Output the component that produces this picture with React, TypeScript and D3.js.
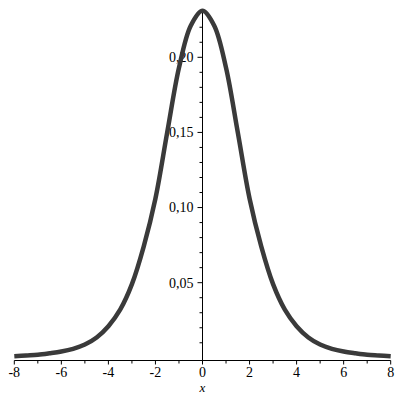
import React, { useEffect, useRef } from 'react';
import * as d3 from 'd3';

// curve (symmetric bell)
const xs = [-8, -7.5, -7, -6.5, -6, -5.5, -5, -4.5, -4, -3.5, -3, -2.5, -2, -1.5, -1, -0.5,
  0, 0.5, 1, 1.5, 2, 2.5, 3, 3.5, 4, 4.5, 5, 5.5, 6, 6.5, 7, 7.5, 8];
const ys = [0.001, 0.0015, 0.002, 0.003, 0.0042, 0.006, 0.0088, 0.0135, 0.021, 0.032, 0.049,
  0.074, 0.106, 0.150, 0.193, 0.221, 0.231, 0.221, 0.193, 0.150, 0.106, 0.074, 0.049, 0.032,
  0.021, 0.0135, 0.0088, 0.006, 0.0042, 0.003, 0.002, 0.0015, 0.001];
const xMajor = [-8, -6, -4, -2, 0, 2, 4, 6, 8];
const xMinor = [-7, -5, -3, -1, 1, 3, 5, 7];
const yMajor = [0.05, 0.1, 0.15, 0.2];
const yMinor = [0.01, 0.02, 0.03, 0.04, 0.06, 0.07, 0.08, 0.09, 0.11, 0.12, 0.13, 0.14,
  0.16, 0.17, 0.18, 0.19, 0.21, 0.22, 0.23];

export default function App() {
  const ref = useRef<SVGSVGElement>(null);

  useEffect(() => {
    const svg = d3.select(ref.current);
    svg.selectAll('*').remove();

    const x = d3.scaleLinear().domain([-8, 8]).range([14.3, 390.7]);
    const y = d3.scaleLinear().domain([0, 0.2]).range([357.8, 57.3]);
    const axisY = 360.5;
    const x0 = x(0);
    const fmt = (v: number) => d3.format('.2f')(v).replace('.', ',');

    const g = svg.append('g');

    // horizontal axis
    g.append('line')
      .attr('x1', x(-8)).attr('x2', x(8))
      .attr('y1', axisY).attr('y2', axisY)
      .attr('stroke', '#000').attr('stroke-width', 1);
    g.selectAll('.xmaj').data(xMajor).enter().append('line')
      .attr('x1', d => x(d)).attr('x2', d => x(d))
      .attr('y1', axisY).attr('y2', axisY + 4)
      .attr('stroke', '#000');
    g.selectAll('.xmin').data(xMinor).enter().append('line')
      .attr('x1', d => x(d)).attr('x2', d => x(d))
      .attr('y1', axisY).attr('y2', axisY + 3)
      .attr('stroke', '#000');
    g.selectAll('.xlab').data(xMajor).enter().append('text')
      .attr('x', d => x(d)).attr('y', 377)
      .attr('text-anchor', 'middle')
      .attr('font-family', '"Liberation Serif", serif')
      .attr('font-size', 14)
      .text(d => String(d));
    g.append('text')
      .attr('x', x0).attr('y', 392)
      .attr('text-anchor', 'middle')
      .attr('font-family', '"Liberation Serif", serif')
      .attr('font-style', 'italic')
      .attr('font-size', 13)
      .text('x');

    // vertical axis
    g.append('line')
      .attr('x1', x0).attr('x2', x0)
      .attr('y1', axisY).attr('y2', 9)
      .attr('stroke', '#000').attr('stroke-width', 1);
    g.selectAll('.ymaj').data(yMajor).enter().append('line')
      .attr('x1', x0 - 5).attr('x2', x0)
      .attr('y1', d => y(d)).attr('y2', d => y(d))
      .attr('stroke', '#000');
    g.selectAll('.ymin').data(yMinor).enter().append('line')
      .attr('x1', x0 - 3).attr('x2', x0)
      .attr('y1', d => y(d)).attr('y2', d => y(d))
      .attr('stroke', '#000');
    g.selectAll('.ylab').data(yMajor).enter().append('text')
      .attr('x', x0 - 9).attr('y', d => y(d))
      .attr('dy', '0.35em')
      .attr('text-anchor', 'end')
      .attr('font-family', '"Liberation Serif", serif')
      .attr('font-size', 14)
      .text(d => fmt(d));

    // the curve
    const line = d3.line<number>()
      .x((d, i) => x(xs[i]))
      .y(d => y(d))
      .curve(d3.curveCatmullRom);
    g.append('path')
      .datum(ys)
      .attr('d', line)
      .attr('fill', 'none')
      .attr('stroke', '#3a3a3a')
      .attr('stroke-width', 4.5)
      .attr('stroke-linejoin', 'round');
  }, []);

  return (
    <div style={{ position: 'absolute', left: 0, top: 0, background: '#fff' }}>
      <svg ref={ref} width={400} height={400} style={{ display: 'block' }} />
    </div>
  );
}
